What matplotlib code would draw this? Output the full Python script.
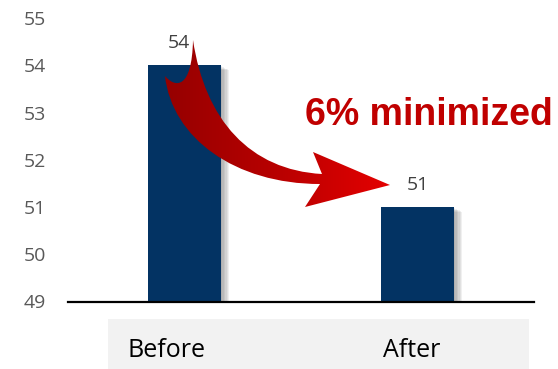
import numpy as np
import matplotlib
matplotlib.use("Agg")
import matplotlib.pyplot as plt
from matplotlib.path import Path
from matplotlib.patches import PathPatch, Rectangle
import matplotlib.patheffects as pe
from matplotlib.colors import LinearSegmentedColormap

# ---- data ----
categories = ["Before", "After"]
values = [54, 51]
yticks = [49, 50, 51, 52, 53, 54, 55]
annotation_text = "6% minimized"

W, H = 558, 369
fig = plt.figure(figsize=(W / 100, H / 100), dpi=100)
ax = fig.add_axes([68 / W, 1 - 301.5 / H, (534 - 68) / W, (301.5 - 18) / H])

x = np.arange(len(categories))
shadow = [pe.SimplePatchShadow(offset=(o, -o * 0.6), shadow_rgbFace="#000000", alpha=0.06)
          for o in (1, 2, 3, 4, 5, 6)]
bars = ax.bar(x, values, width=0.313, color="#033363", zorder=2,
              path_effects=shadow + [pe.Normal()])

ax.set_xlim(-0.5, 1.5)
ax.set_ylim(min(yticks), max(yticks))
ax.set_yticks(yticks)
ax.set_yticklabels([str(t) for t in yticks], fontfamily="Open Sans", fontsize=14, color="#595959")
ax.tick_params(axis="y", length=0, pad=16)
ax.set_xticks([])
for s in ("top", "right", "left"):
    ax.spines[s].set_visible(False)
ax.spines["bottom"].set_linewidth(1.6)
ax.spines["bottom"].set_color("black")
ax.spines["bottom"].set_zorder(3)

label_dx = [-4, 0]
for xi, v, dx in zip(x, values, label_dx):
    ax.annotate(str(v), (xi, v), xytext=(dx, 12.2), textcoords="offset points",
                ha="center", va="baseline", fontfamily="Open Sans", fontsize=14,
                color="#404040", zorder=5)

# ---- overlay in pixel coordinates (from top-left) ----
ov = fig.add_axes([0, 0, 1, 1], facecolor="none")
ov.set_xlim(0, W)
ov.set_ylim(H, 0)
ov.axis("off")

# category label strip
ov.add_patch(Rectangle((108, 319), 529 - 108, 60, facecolor="#f2f2f2", edgecolor="none", zorder=1))
cat_x = [128, 383]
for cx, c in zip(cat_x, categories):
    ov.text(cx, 357, c, ha="left", va="baseline", fontfamily="Open Sans", fontsize=18,
            color="black", zorder=2)

# curved block arrow
verts = [
    (193, 40),
    (205, 120), (250, 170), (322, 174),
    (313, 152),
    (390, 185),
    (305, 207),
    (320, 184),
    (235, 184), (172, 138), (165, 76),
    (175, 88), (192, 90), (193, 40),
    (193, 40),
]
codes = [Path.MOVETO,
         Path.CURVE4, Path.CURVE4, Path.CURVE4,
         Path.LINETO, Path.LINETO, Path.LINETO, Path.LINETO,
         Path.CURVE4, Path.CURVE4, Path.CURVE4,
         Path.CURVE4, Path.CURVE4, Path.CURVE4,
         Path.CLOSEPOLY]
arrow_path = Path(verts, codes)
patch = PathPatch(arrow_path, facecolor="none", edgecolor="none", zorder=4)
ov.add_patch(patch)
cmap = LinearSegmentedColormap.from_list("redgrad", ["#940000", "#b80000", "#e60000"])
gx = np.linspace(0, 1, 256)
grad = np.tile(gx, (64, 1))
im = ov.imshow(grad, cmap=cmap, extent=(160, 395, 210, 35), aspect="auto",
               interpolation="bilinear", zorder=4)
im.set_clip_path(patch)

ov.text(305, 125, annotation_text, ha="left", va="baseline", fontfamily="Liberation Sans",
        fontweight="bold", fontsize=27, color="#c00000", zorder=5)

fig.savefig("out.png", dpi=100)
